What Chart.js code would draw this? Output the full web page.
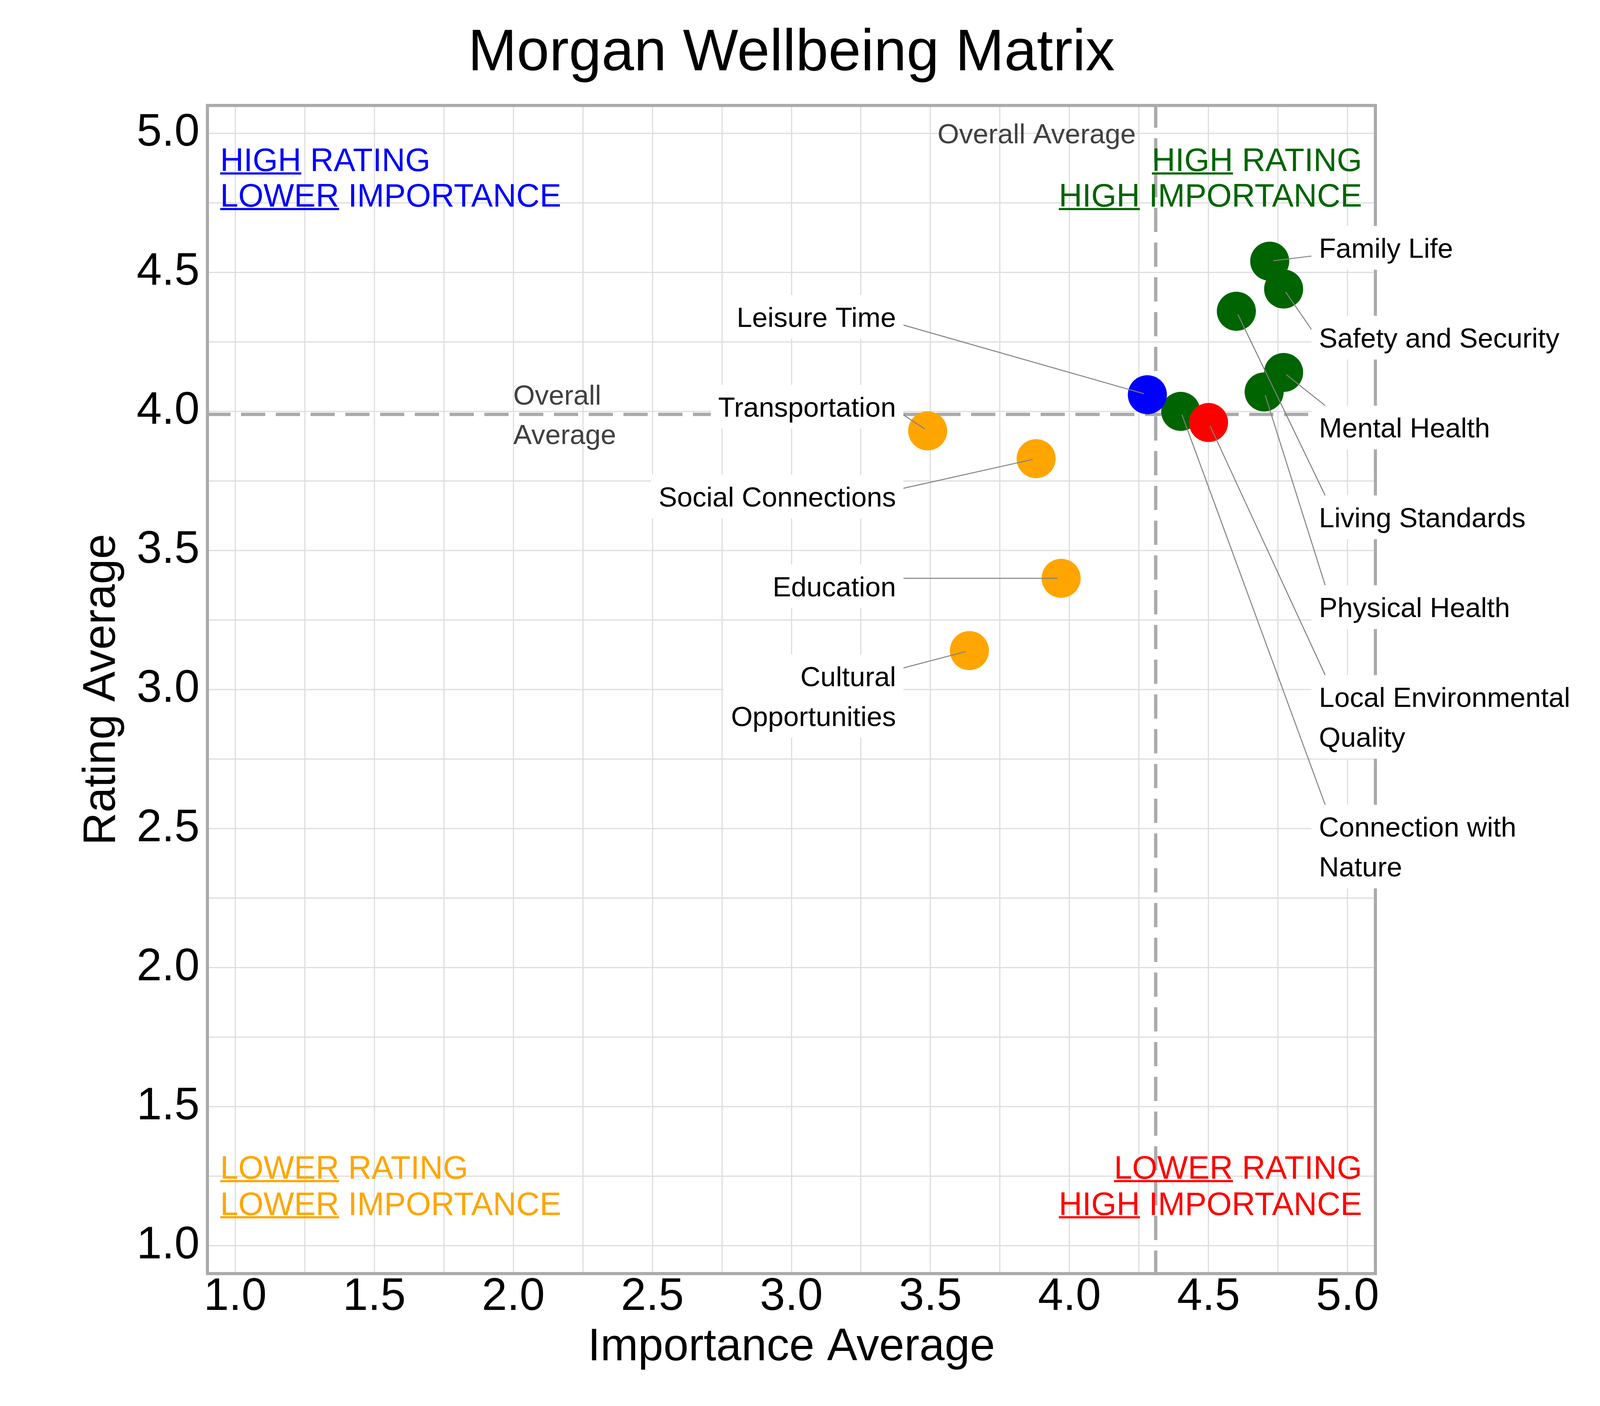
<!DOCTYPE html>
<html>
<head>
<meta charset="utf-8">
<title>Morgan Wellbeing Matrix</title>
<script src="https://cdn.jsdelivr.net/npm/chart.js@4.4.0/dist/chart.umd.min.js"></script>
<style>
	html, body { margin: 0; padding: 0; background: #fff; }
	canvas { display: block; }
</style>
</head>
<body>
<canvas id="matrixChart" width="4200" height="3600"></canvas>
<script>
// Data
const categories = ['Family Life', 'Safety and Security', 'Living Standards', 'Mental Health',
	'Physical Health', 'Connection with Nature', 'Local Environmental Quality', 'Leisure Time',
	'Transportation', 'Social Connections', 'Education', 'Cultural Opportunities'];
const importanceAvg = [4.72, 4.77, 4.60, 4.77, 4.70, 4.40, 4.50, 4.28, 3.49, 3.88, 3.97, 3.64];
const ratingAvg = [4.54, 4.44, 4.36, 4.14, 4.07, 4.00, 3.96, 4.06, 3.93, 3.83, 3.40, 3.14];
const tickLabels = ['1.0', '1.5', '2.0', '2.5', '3.0', '3.5', '4.0', '4.5', '5.0'];

// Label columns (which side of the plot each name goes)
const rightLabelOrder = ['Family Life', 'Safety and Security', 'Mental Health', 'Living Standards',
	'Physical Health', 'Local Environmental Quality', 'Connection with Nature'];
const leftLabelOrder = ['Leisure Time', 'Transportation', 'Social Connections', 'Education',
	'Cultural Opportunities'];

const FONT = '"Liberation Sans", Arial, Helvetica, sans-serif';
const darkGreen = '#006400';
const blue = '#0000ff';
const orange = '#ffa500';
const red = '#ff0000';

const LABEL_SIZE = 71;
const LINE_GAP = 102;
const LABEL_STEP = 230;
const PAD_X = 19;
const PAD_Y = 56;

Chart.defaults.font.family = FONT;

function mean(arr) {
	let sum = 0;
	for(let i = 0; i < arr.length; i++) {
		sum += arr[i];
	}
	return sum / arr.length;
}

const avgImportance = mean(importanceAvg);
const avgRating = mean(ratingAvg);

function quadrantColor(i) {
	let highImp = importanceAvg[i] >= avgImportance;
	let highRate = ratingAvg[i] >= avgRating;
	if(highImp && highRate) return darkGreen;
	if(highImp) return red;
	if(highRate) return blue;
	return orange;
}

function wrapWords(text, width) {
	let words = text.split(' ');
	let lines = [];
	let line = '';
	words.forEach(function(w) {
		if(line && (line + ' ' + w).length > width) {
			lines.push(line);
			line = w;
		} else {
			line = line ? line + ' ' + w : w;
		}
	});
	lines.push(line);
	return lines;
}

// Segment start on the label box, nearest side with the corners trimmed
function edgeAnchor(box, px, py) {
	const inset = 35;
	let ix = Math.min(Math.max(px, box.left + inset), box.right - inset);
	let iy = Math.min(Math.max(py, box.top + inset), box.bottom - inset);
	let outX = px < box.left ? box.left - px : (px > box.right ? px - box.right : 0);
	let outY = py < box.top ? box.top - py : (py > box.bottom ? py - box.bottom : 0);
	if(outX > outY) {
		return {x: px < box.left ? box.left : box.right, y: iy};
	}
	return {x: ix, y: py < box.top ? box.top : box.bottom};
}

// Text with the first word underlined; y is the cap centre
function drawCaption(ctx, parts, px, py, align, color) {
	const size = 83;
	ctx.font = size + 'px ' + FONT;
	ctx.textAlign = 'left';
	ctx.textBaseline = 'alphabetic';
	ctx.fillStyle = color;
	let full = parts.join('');
	let w = ctx.measureText(full).width;
	let x0 = align === 'right' ? px - w : px;
	let base = py + 0.358 * size;
	ctx.fillText(full, x0, base);
	let uw = ctx.measureText(parts[0]).width;
	ctx.fillRect(x0, base + 3.5, uw, 5.5);
}

const quadrantPlugin = {
	id: 'quadrantGuides',
	beforeDatasetsDraw(chart) {
		const ctx = chart.ctx;
		const a = chart.chartArea;
		const x = chart.scales.x;
		const y = chart.scales.y;
		let vx = x.getPixelForValue(avgImportance);
		let hy = y.getPixelForValue(avgRating);

		ctx.save();
		ctx.strokeStyle = '#aaaaaa';
		ctx.lineWidth = 8.5;
		ctx.setLineDash([62, 27]);
		ctx.lineDashOffset = 5;
		ctx.beginPath();
		ctx.moveTo(vx, a.top);
		ctx.lineTo(vx, a.bottom);
		ctx.stroke();
		ctx.lineDashOffset = 3;
		ctx.beginPath();
		ctx.moveTo(a.left, hy);
		ctx.lineTo(a.right, hy);
		ctx.stroke();
		ctx.setLineDash([]);

		// "Overall Average" notes
		ctx.fillStyle = '#404040';
		ctx.font = LABEL_SIZE + 'px ' + FONT;
		ctx.textBaseline = 'alphabetic';
		let note = 'Overall Average';
		let nw = ctx.measureText(note).width;
		ctx.textAlign = 'right';
		ctx.fillText(note, vx - 0.1 * nw, y.getPixelForValue(5.0) + 0.358 * LABEL_SIZE);
		ctx.textAlign = 'left';
		let hx = x.getPixelForValue(2.0);
		ctx.fillText('Overall', hx, hy - 50 + 0.358 * LABEL_SIZE);
		ctx.fillText('Average', hx, hy + 51 + 0.358 * LABEL_SIZE);

		// Quadrant captions
		let leftX = x.getPixelForValue(0.946);
		let rightX = x.getPixelForValue(5.052);
		let topY1 = y.getPixelForValue(4.906);
		let topY2 = y.getPixelForValue(4.778);
		let botY1 = y.getPixelForValue(1.283);
		let botY2 = y.getPixelForValue(1.153);
		drawCaption(ctx, ['HIGH', ' RATING'], leftX, topY1, 'left', blue);
		drawCaption(ctx, ['LOWER', ' IMPORTANCE'], leftX, topY2, 'left', blue);
		drawCaption(ctx, ['HIGH', ' RATING'], rightX, topY1, 'right', darkGreen);
		drawCaption(ctx, ['HIGH', ' IMPORTANCE'], rightX, topY2, 'right', darkGreen);
		drawCaption(ctx, ['LOWER', ' RATING'], leftX, botY1, 'left', orange);
		drawCaption(ctx, ['LOWER', ' IMPORTANCE'], leftX, botY2, 'left', orange);
		drawCaption(ctx, ['LOWER', ' RATING'], rightX, botY1, 'right', red);
		drawCaption(ctx, ['HIGH', ' IMPORTANCE'], rightX, botY2, 'right', red);
		ctx.restore();
	}
};

const labelPlugin = {
	id: 'repelLabels',
	afterDatasetsDraw(chart) {
		const ctx = chart.ctx;
		const a = chart.chartArea;
		const x = chart.scales.x;
		const y = chart.scales.y;

		ctx.save();
		// Panel border
		ctx.strokeStyle = '#ababab';
		ctx.lineWidth = 8;
		ctx.strokeRect(a.left, a.top, a.right - a.left, a.bottom - a.top);

		ctx.font = LABEL_SIZE + 'px ' + FONT;
		let items = [];
		let columns = [
			['right', rightLabelOrder, 4.588, 4.897],
			['left', leftLabelOrder, 4.340, 3.376]
		];
		columns.forEach(function(col) {
			let side = col[0];
			let lineY = y.getPixelForValue(col[2]);
			let textX = x.getPixelForValue(col[3]);
			col[1].forEach(function(name) {
				let i = categories.indexOf(name);
				let lines = wrapWords(name, 20);
				let maxW = Math.max.apply(null, lines.map(function(l) { return ctx.measureText(l).width; }));
				let ys = lines.map(function(l, k) { return lineY + k * LINE_GAP; });
				let box = {
					left: side === 'right' ? textX - PAD_X : textX - maxW - PAD_X,
					right: side === 'right' ? textX + maxW + PAD_X : textX + PAD_X,
					top: ys[0] - PAD_Y,
					bottom: ys[ys.length - 1] + PAD_Y
				};
				items.push({i: i, side: side, lines: lines, ys: ys, textX: textX, box: box});
				lineY = ys[ys.length - 1] + LABEL_STEP;
			});
		});

		// Connector segments
		ctx.strokeStyle = '#808080';
		ctx.lineWidth = 2.5;
		items.forEach(function(it) {
			let px = x.getPixelForValue(importanceAvg[it.i]);
			let py = y.getPixelForValue(ratingAvg[it.i]);
			let s = edgeAnchor(it.box, px, py);
			let dx = px - s.x;
			let dy = py - s.y;
			let len = Math.hypot(dx, dy) || 1;
			ctx.beginPath();
			ctx.moveTo(s.x, s.y);
			ctx.lineTo(px - dx / len * 9, py - dy / len * 9);
			ctx.stroke();
		});

		// Label boxes and text
		items.forEach(function(it) {
			ctx.fillStyle = '#ffffff';
			ctx.fillRect(it.box.left, it.box.top, it.box.right - it.box.left, it.box.bottom - it.box.top);
			ctx.fillStyle = '#000000';
			ctx.textAlign = it.side === 'right' ? 'left' : 'right';
			ctx.textBaseline = 'alphabetic';
			it.lines.forEach(function(l, k) {
				ctx.fillText(l, it.textX, it.ys[k] + 0.358 * LABEL_SIZE);
			});
		});
		ctx.restore();
	}
};

function tickText(value) {
	let s = Number(value).toFixed(1);
	let onHalf = Math.abs(value * 2 - Math.round(value * 2)) < 1e-6;
	return onHalf && tickLabels.indexOf(s) >= 0 ? s : '';
}

const points = categories.map(function(c, i) {
	return {x: importanceAvg[i], y: ratingAvg[i]};
});
const pointColors = categories.map(function(c, i) {
	return quadrantColor(i);
});

const config = {
	type: 'scatter',
	data: {
		datasets: [{
			label: 'Wellbeing',
			data: points,
			pointBackgroundColor: pointColors,
			pointBorderWidth: 0,
			pointRadius: 50,
			pointHoverRadius: 50,
		}]
	},
	options: {
		responsive: false,
		devicePixelRatio: 1,
		animation: false,
		layout: {
			padding: {left: 0, right: 679, top: 0, bottom: 0},
		},
		plugins: {
			legend: {display: false},
			tooltip: {enabled: false},
			title: {
				display: true,
				text: 'Morgan Wellbeing Matrix',
				color: '#000',
				fullSize: false,
				font: {size: 150, weight: 'normal', lineHeight: 1.2},
				padding: {top: 49, bottom: 41},
			},
		},
		scales: {
			x: {
				type: 'linear',
				min: 0.9,
				max: 5.1,
				afterFit: function(scale) { scale.height = 339; },
				border: {display: false},
				grid: {color: '#dedede', lineWidth: 3, drawTicks: false},
				ticks: {
					stepSize: 0.25,
					includeBounds: false,
					autoSkip: false,
					maxTicksLimit: 40,
					maxRotation: 0,
					padding: 3,
					color: '#000',
					font: {size: 116, lineHeight: 1},
					callback: tickText,
				},
				title: {
					display: true,
					text: 'Importance Average',
					color: '#000',
					font: {size: 116, lineHeight: 1.2},
					padding: {top: 0, bottom: 79},
				},
			},
			y: {
				type: 'linear',
				min: 0.9,
				max: 5.1,
				afterFit: function(scale) { scale.width = 531; },
				border: {display: false},
				grid: {color: '#dedede', lineWidth: 3, drawTicks: false},
				ticks: {
					stepSize: 0.25,
					includeBounds: false,
					autoSkip: false,
					maxTicksLimit: 40,
					padding: 20,
					color: '#000',
					font: {size: 116, lineHeight: 1},
					callback: tickText,
				},
				title: {
					display: true,
					text: 'Rating Average',
					color: '#000',
					font: {size: 116, lineHeight: 1.2},
					padding: {top: 192, bottom: 0},
				},
			},
		},
	},
	plugins: [quadrantPlugin, labelPlugin],
};

const matrixChart = new Chart(document.getElementById('matrixChart').getContext('2d'), config);
</script>
</body>
</html>
